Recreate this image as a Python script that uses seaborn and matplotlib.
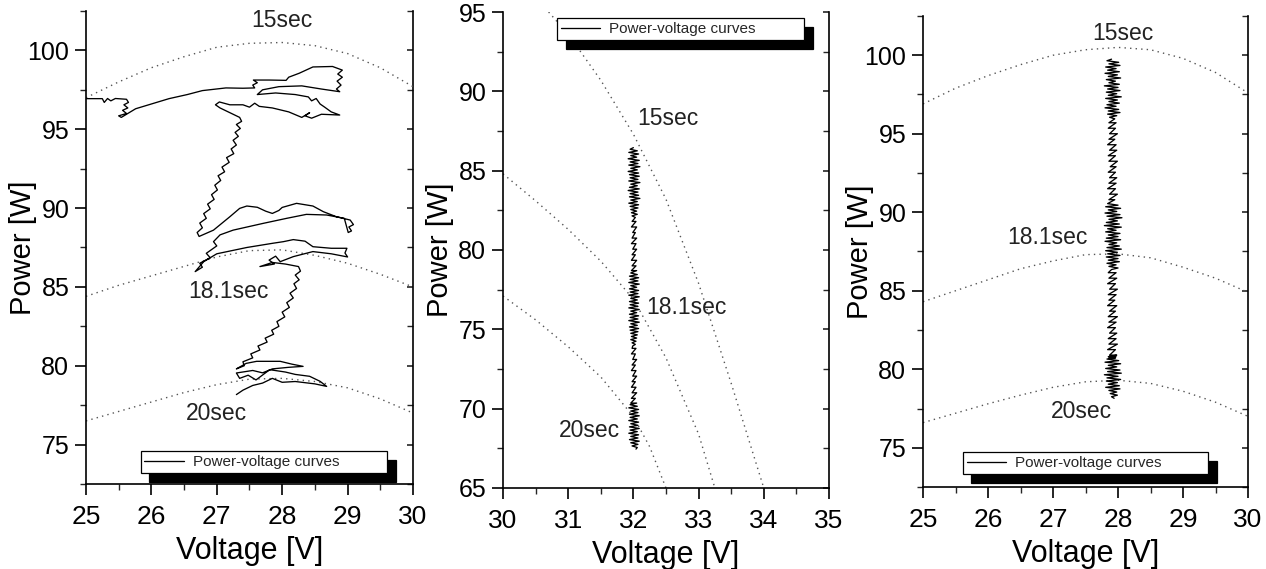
import matplotlib
matplotlib.use("Agg")
import matplotlib.pyplot as plt
from matplotlib.ticker import MultipleLocator
import seaborn as sns

# ---------------- data ----------------
# Dotted P-V curves (panels 1 and 3 share the same voltage grid)
pv_volt = [25.0, 25.5, 26.0, 26.5, 27.0, 27.5, 28.0, 28.5, 29.0, 29.5, 30.0]
p1_15s = [97.0, 98.0, 98.9, 99.6, 100.2, 100.45, 100.5, 100.3, 99.8, 98.9, 97.7]
p1_181s = [84.4, 85.1, 85.7, 86.3, 86.9, 87.3, 87.35, 87.0, 86.5, 85.8, 85.0]
p1_20s = [76.5, 77.1, 77.7, 78.3, 78.8, 79.15, 79.2, 79.0, 78.6, 77.9, 77.0]

p3_15s = [96.9, 97.9, 98.7, 99.4, 100.0, 100.35, 100.5, 100.35, 99.8, 98.9, 97.6]
p3_181s = [84.3, 85.0, 85.7, 86.4, 86.9, 87.3, 87.35, 87.1, 86.5, 85.8, 84.9]
p3_20s = [76.6, 77.2, 77.8, 78.35, 78.85, 79.2, 79.3, 79.1, 78.6, 77.9, 77.0]

# Panel 2 dotted curves
p2_15s_v = [30.7, 31.0, 31.5, 32.0, 32.5, 33.0, 33.5, 34.0]
p2_15s_p = [95.0, 93.6, 90.7, 87.3, 83.2, 77.9, 71.6, 65.0]
p2_181s_v = [30.0, 30.5, 31.0, 31.5, 32.0, 32.5, 33.0, 33.25]
p2_181s_p = [84.8, 83.1, 81.3, 79.3, 76.9, 73.2, 68.4, 65.0]
p2_20s_v = [30.0, 30.5, 31.0, 31.5, 32.0, 32.25, 32.5]
p2_20s_p = [77.1, 75.6, 73.9, 72.0, 69.5, 67.6, 65.0]

# Panel 1 operating-point trajectory
traj1_v = [25.00, 25.25, 25.28, 25.33, 25.38, 25.45, 25.62, 25.65, 25.58, 25.64, 25.56, 25.62, 25.50, 25.54,
           25.62, 25.76, 26.00, 26.27, 26.55, 26.78, 27.14, 27.40, 27.58,
           27.55, 27.62, 27.56, 27.80, 28.06, 28.10, 28.26, 28.47, 28.77, 28.92, 28.85, 28.92, 28.84, 28.90, 28.83, 28.88,
           28.60, 28.30, 27.95, 27.70, 27.62,
           27.90, 28.20, 28.40, 28.45, 28.52, 28.58, 28.65, 28.75, 28.88,
           28.60, 28.45, 28.35, 28.42, 28.30, 28.10, 27.85, 27.65, 27.58, 27.50, 27.40, 27.20, 27.04, 26.98, 27.05, 27.15, 27.25, 27.35,
           27.38, 27.30, 27.36, 27.28, 27.33, 27.25, 27.30, 27.22, 27.26, 27.15, 27.19, 27.08, 27.12, 27.02, 27.06, 26.97, 27.01,
           26.92, 26.96, 26.86, 26.90, 26.80, 26.84, 26.74, 26.78, 26.70, 26.73,
           26.95, 27.20, 27.35, 27.46, 27.62, 27.75, 27.85, 27.95, 28.00, 28.22, 28.47, 28.63, 28.83, 29.04, 29.09, 29.02, 29.06, 29.01,
           28.95, 28.68, 28.37, 28.07, 27.71, 27.25, 27.05,
           26.95, 27.00, 26.84, 26.90, 26.74, 26.78, 26.67,
           26.80, 27.00, 27.46, 27.86, 28.02, 28.17, 28.35, 28.47, 28.75, 28.99, 28.96, 29.00,
           28.75, 28.47, 28.17, 27.97, 27.90, 27.80, 27.88, 27.66, 27.85, 28.05, 28.25,
           28.28, 28.20, 28.26, 28.18, 28.22, 28.12, 28.17, 28.07, 28.11, 28.00, 28.04, 27.92, 27.95, 27.84, 27.87, 27.74,
           27.77, 27.63, 27.66, 27.52, 27.55, 27.40, 27.42, 27.30,
           27.45, 27.61, 27.97, 28.15, 28.32, 28.10, 27.85, 27.70, 27.55, 27.30, 27.35, 27.48, 27.60, 27.81, 28.05, 28.20,
           28.42, 28.58, 28.68, 28.50, 28.20, 28.00, 27.85, 27.70, 27.55, 27.40, 27.30]
traj1_p = [96.94, 96.94, 96.70, 96.95, 96.80, 96.95, 96.90, 96.70, 96.55, 96.35, 96.20, 96.00, 95.85, 95.75,
           95.95, 96.30, 96.60, 96.94, 97.20, 97.45, 97.62, 97.60, 97.62,
           97.80, 97.95, 98.12, 98.12, 98.10, 98.30, 98.55, 98.95, 98.98, 98.75, 98.50, 98.30, 98.05, 97.80, 97.55, 97.38,
           97.55, 97.75, 97.70, 97.50, 97.20,
           97.30, 97.20, 97.05, 96.80, 96.95, 96.60, 96.40, 96.10, 95.90,
           95.95, 95.70, 95.85, 96.05, 95.75, 96.10, 96.35, 96.45, 96.65, 96.40, 96.55, 96.55, 96.73, 96.55, 96.35, 96.15, 95.95, 95.75,
           95.50, 95.30, 95.05, 94.80, 94.55, 94.30, 94.00, 93.75, 93.45, 93.20, 92.90, 92.60, 92.30, 92.05, 91.75, 91.45, 91.15,
           90.85, 90.55, 90.25, 89.95, 89.65, 89.35, 89.05, 88.75, 88.45, 88.20,
           88.60, 89.45, 89.98, 90.13, 90.05, 89.80, 89.66, 89.85, 90.04, 90.30, 90.13, 89.77, 89.45, 89.24, 88.95, 88.80, 88.55, 88.45,
           89.35, 89.56, 89.60, 89.35, 89.03, 88.60, 88.30,
           87.87, 87.60, 87.13, 86.85, 86.50, 86.25, 85.97,
           86.60, 87.10, 87.50, 87.77, 87.87, 88.00, 87.90, 87.55, 87.45, 87.45, 87.15, 86.90,
           87.10, 87.24, 86.92, 86.60, 86.95, 86.70, 86.45, 86.29, 86.55, 86.45, 86.29,
           86.00, 85.75, 85.45, 85.20, 84.90, 84.60, 84.30, 84.00, 83.70, 83.40, 83.10, 82.80, 82.50, 82.25, 82.00, 81.75,
           81.50, 81.25, 81.00, 80.75, 80.50, 80.25, 80.00, 79.80,
           80.15, 80.28, 80.28, 80.10, 79.96, 79.90, 79.80, 79.55, 79.70, 79.54, 79.20, 79.40, 79.10, 79.75, 79.60, 79.45,
           79.33, 79.01, 78.69, 78.85, 79.00, 78.95, 79.20, 78.90, 78.75, 78.45, 78.17]

# Panel 2 trajectory (around 32 V), top to bottom
traj2_v = [32.00, 31.95, 32.06, 31.93, 32.08, 31.96, 32.05, 31.92, 32.09, 31.95, 32.07, 31.93, 32.10, 31.96, 32.06,
           31.92, 32.08, 31.94, 32.09, 31.95, 32.07, 31.93, 32.10, 31.96, 32.06, 31.94, 32.09, 31.92, 32.07, 31.95,
           32.08, 31.94, 32.10, 31.96, 32.06, 31.93, 32.08, 31.95, 32.07, 31.96, 32.05, 31.97, 32.06, 31.98, 32.03,
           31.98, 32.04, 31.97, 32.05, 31.99, 32.03, 31.98, 32.05, 31.97, 32.04, 31.99, 32.05, 31.98, 32.03, 31.97,
           32.05, 31.98, 32.04, 31.97, 32.05,
           31.96, 32.06, 31.94, 32.08, 31.95, 32.07, 31.93, 32.09, 31.96, 32.05, 31.94, 32.08, 31.95, 32.07, 31.93,
           32.09, 31.96, 32.06, 31.94, 32.08, 31.95, 32.07, 31.93, 32.09, 31.96, 32.05, 31.94, 32.08, 31.95, 32.07,
           31.93, 32.09, 31.96, 32.06, 31.94, 32.08, 31.95, 32.07, 31.96, 32.06, 31.97, 32.05, 31.96, 32.04, 31.98,
           32.03, 31.99,
           31.98, 32.04, 31.97, 32.03, 31.99, 32.05, 31.98, 32.03, 31.97, 32.04, 31.99, 32.05, 31.98, 32.03, 31.97,
           32.04, 31.98, 32.05, 31.97, 32.03, 31.96, 32.05,
           31.95, 32.06, 31.93, 32.08, 31.96, 32.07, 31.94, 32.09, 31.95, 32.06, 31.93, 32.08, 31.96, 32.07, 31.94,
           32.09, 31.95, 32.06, 31.93, 32.08, 31.96, 32.07, 31.94, 32.09, 31.96, 32.07, 31.98, 32.06, 32.04]
traj2_p = [86.45, 86.35, 86.25, 86.15, 86.05, 85.95, 85.85, 85.75, 85.65, 85.55, 85.45, 85.35, 85.25, 85.15, 85.05,
           84.95, 84.85, 84.75, 84.65, 84.55, 84.45, 84.35, 84.25, 84.15, 84.05, 83.95, 83.85, 83.75, 83.65, 83.55,
           83.45, 83.35, 83.25, 83.15, 83.05, 82.95, 82.85, 82.75, 82.65, 82.55, 82.45, 82.35, 82.25, 82.15, 82.05,
           81.80, 81.80, 81.45, 81.45, 81.10, 81.10, 80.75, 80.75, 80.40, 80.40, 80.05, 80.05, 79.70, 79.70, 79.35,
           79.35, 79.00, 79.00, 78.70, 78.70,
           78.55, 78.45, 78.35, 78.25, 78.15, 78.05, 77.95, 77.85, 77.75, 77.65, 77.55, 77.45, 77.35, 77.25, 77.15,
           77.05, 76.95, 76.85, 76.75, 76.65, 76.55, 76.45, 76.35, 76.25, 76.15, 76.05, 75.95, 75.85, 75.75, 75.65,
           75.55, 75.45, 75.35, 75.25, 75.15, 75.05, 74.95, 74.85, 74.75, 74.65, 74.55, 74.45, 74.35, 74.25, 74.15,
           74.05, 73.95,
           73.80, 73.80, 73.45, 73.45, 73.10, 73.10, 72.75, 72.75, 72.40, 72.40, 72.05, 72.05, 71.70, 71.70, 71.35,
           71.35, 71.00, 71.00, 70.65, 70.65, 70.35, 70.35,
           70.25, 70.15, 70.05, 69.95, 69.85, 69.75, 69.65, 69.55, 69.45, 69.35, 69.25, 69.15, 69.05, 68.95, 68.85,
           68.75, 68.65, 68.55, 68.45, 68.35, 68.25, 68.15, 68.05, 67.95, 67.85, 67.75, 67.65, 67.55, 67.45]

# Panel 3 trajectory (around 27.9 V), top to bottom
traj3_v = [27.90, 27.83, 28.01, 27.86, 28.03, 27.81, 27.97, 27.84, 28.02, 27.80, 27.99, 27.85, 28.04, 27.82, 27.96,
           27.86, 28.02, 27.79, 28.00, 27.84, 28.03, 27.82, 27.98, 27.85, 28.05, 27.81, 27.99, 27.86, 28.02, 27.83,
           27.97, 27.80, 28.01, 27.85, 28.03, 27.84, 27.98, 27.87, 27.95,
           27.86, 27.97, 27.85, 27.96, 27.87, 27.99, 27.86, 27.95, 27.84, 27.97, 27.87, 27.98, 27.85, 27.96, 27.86,
           27.99, 27.88, 27.97, 27.85, 27.96, 27.87, 27.98, 27.86, 27.97, 27.84, 27.96, 27.87, 27.99, 27.86, 27.95,
           27.84, 28.00, 27.81, 28.04, 27.85, 27.98, 27.80, 28.03, 27.83, 28.06, 27.86, 27.99, 27.82, 28.02, 27.79,
           28.05, 27.84, 27.97, 27.81, 28.03, 27.85, 28.00, 27.82, 28.04, 27.80, 27.98, 27.86, 28.02, 27.83, 28.05,
           27.81, 27.99, 27.84, 28.03, 27.82, 28.00, 27.85, 28.02, 27.83, 27.97, 27.86, 28.00, 27.90,
           27.85, 27.97, 27.86, 27.98, 27.84, 27.96, 27.87, 27.99, 27.85, 27.97, 27.86, 27.95, 27.84, 27.98, 27.87,
           27.96, 27.85, 27.99, 27.86, 27.97, 27.84, 27.96, 27.87, 27.98, 27.85, 27.97, 27.86, 27.99, 27.84, 27.96,
           27.87, 27.98, 27.85, 27.97, 27.86, 27.96,
           27.83, 28.01, 27.80, 28.04, 27.85, 27.98, 27.81, 28.03, 27.84, 28.05, 27.79, 28.00, 27.83, 28.04, 27.82,
           27.99, 27.85, 28.02, 27.81, 28.03, 27.86, 27.98, 27.88, 27.99, 27.90, 27.94]
traj3_p = [99.75, 99.65, 99.55, 99.45, 99.35, 99.25, 99.15, 99.05, 98.95, 98.85, 98.75, 98.65, 98.55, 98.45, 98.35,
           98.25, 98.15, 98.05, 97.95, 97.85, 97.75, 97.65, 97.55, 97.45, 97.35, 97.25, 97.15, 97.05, 96.95, 96.85,
           96.75, 96.65, 96.55, 96.45, 96.35, 96.25, 96.15, 96.05, 95.95,
           95.70, 95.70, 95.35, 95.35, 95.00, 95.00, 94.65, 94.65, 94.30, 94.30, 93.95, 93.95, 93.60, 93.60, 93.25,
           93.25, 92.90, 92.90, 92.55, 92.55, 92.20, 92.20, 91.85, 91.85, 91.50, 91.50, 91.15, 91.15, 90.80, 90.80,
           90.55, 90.45, 90.35, 90.25, 90.15, 90.05, 89.95, 89.85, 89.75, 89.65, 89.55, 89.45, 89.35, 89.25, 89.15,
           89.05, 88.95, 88.85, 88.75, 88.65, 88.55, 88.45, 88.35, 88.25, 88.15, 88.05, 87.95, 87.85, 87.75, 87.65,
           87.55, 87.45, 87.35, 87.25, 87.15, 87.05, 86.95, 86.85, 86.75, 86.65, 86.55, 86.45, 86.35,
           86.15, 86.15, 85.80, 85.80, 85.45, 85.45, 85.10, 85.10, 84.75, 84.75, 84.40, 84.40, 84.05, 84.05, 83.70,
           83.70, 83.35, 83.35, 83.00, 83.00, 82.65, 82.65, 82.30, 82.30, 81.95, 81.95, 81.60, 81.60, 81.25, 81.25,
           80.90, 80.90, 80.80, 80.80, 80.72, 80.72,
           80.65, 80.55, 80.45, 80.35, 80.25, 80.15, 80.05, 79.95, 79.85, 79.75, 79.65, 79.55, 79.45, 79.35, 79.25,
           79.15, 79.05, 78.95, 78.85, 78.75, 78.65, 78.55, 78.45, 78.35, 78.25, 78.15]

curve_names = ["15sec", "18.1sec", "20sec"]
label_pos1 = [(27.99, 101.9), (27.18, 84.7), (27.0, 77.0)]
label_pos2 = [(32.53, 88.3), (32.81, 76.35), (31.33, 68.6)]
label_pos3 = [(28.08, 101.4), (26.92, 88.4), (27.44, 77.3)]
legend_text = "Power-voltage curves"

# ---------------- style ----------------
sns.set_theme(style="ticks")
plt.rcParams["font.family"] = ["Liberation Sans", "DejaVu Sans"]
plt.rcParams["axes.linewidth"] = 1.2
plt.rcParams["xtick.major.width"] = 1.2
plt.rcParams["ytick.major.width"] = 1.2
plt.rcParams["xtick.minor.width"] = 1.0
plt.rcParams["ytick.minor.width"] = 1.0

fig = plt.figure(figsize=(12.66, 5.69), dpi=100)
rects = [
    (0.0679, 0.1494, 0.3262 - 0.0679, 0.9807 - 0.1494),
    (0.3973, 0.1424, 0.6548 - 0.3973, 0.9789 - 0.1424),
    (0.7291, 0.1441, 0.9858 - 0.7291, 0.9719 - 0.1441),
]
axes = [fig.add_axes(r) for r in rects]

dot_style = dict(color="#555555", linewidth=1.0, linestyle=(0, (1, 3)), legend=False)
traj_style = dict(color="black", linewidth=0.95, sort=False, estimator=None)


def style_axis(ax, xlim, ylim, xmaj, ymaj, leg_box):
    ax.set_xlim(*xlim)
    ax.set_ylim(*ylim)
    ax.xaxis.set_major_locator(MultipleLocator(xmaj))
    ax.xaxis.set_minor_locator(MultipleLocator(xmaj / 2))
    ax.yaxis.set_major_locator(MultipleLocator(ymaj))
    ax.yaxis.set_minor_locator(MultipleLocator(ymaj / 2))
    ax.tick_params(axis="both", which="major", direction="out", length=8,
                   colors="black")
    ax.tick_params(axis="x", which="major", labelsize=19, pad=7)
    ax.tick_params(axis="y", which="major", labelsize=18, pad=4)
    ax.tick_params(axis="both", which="minor", direction="out", length=4)
    ax.spines["top"].set_visible(False)
    ax.spines["right"].set_visible(False)
    for s in ("left", "bottom"):
        ax.spines[s].set_color("black")
    sec = ax.secondary_yaxis("right")
    sec.yaxis.set_major_locator(MultipleLocator(ymaj))
    sec.yaxis.set_minor_locator(MultipleLocator(ymaj / 2))
    sec.tick_params(axis="y", which="both", direction="in", length=4, labelright=False)
    sec.spines["right"].set_color("black")
    sec.spines["right"].set_linewidth(1.2)
    ax.set_xlabel("Voltage [V]", fontsize=22, labelpad=5, color="black")
    ax.set_ylabel("Power [W]", fontsize=21, color="black")
    ax.yaxis.set_label_coords(-0.15, 0.5)
    leg = ax.legend(loc="lower left", bbox_to_anchor=leg_box, mode="expand",
                    borderaxespad=0, borderpad=0.25, handlelength=2.6, handletextpad=0.6,
                    fontsize=11, frameon=True, fancybox=False, framealpha=1,
                    alignment="center",
                    shadow={"ox": 6.3, "oy": -6.3, "color": "black", "alpha": 1})
    leg.get_frame().set_edgecolor("black")
    leg.get_frame().set_linewidth(0.9)


def add_labels(ax, positions):
    for name, (x, y) in zip(curve_names, positions):
        ax.text(x, y, name, fontsize=16.5, ha="center", va="center", color="#222222")


# Panel 1
ax = axes[0]
for vals in (p1_15s, p1_181s, p1_20s):
    sns.lineplot(x=pv_volt, y=vals, ax=ax, **dot_style)
sns.lineplot(x=traj1_v, y=traj1_p, ax=ax, label=legend_text, **traj_style)
add_labels(ax, label_pos1)
style_axis(ax, (25, 30), (72.5, 102.5), 1, 5, (0.167, 0.023, 0.754, 0.049))

# Panel 2
ax = axes[1]
for xv, yv in ((p2_15s_v, p2_15s_p), (p2_181s_v, p2_181s_p), (p2_20s_v, p2_20s_p)):
    sns.lineplot(x=xv, y=yv, ax=ax, sort=False, **dot_style)
sns.lineplot(x=traj2_v, y=traj2_p, ax=ax, label=legend_text, **traj_style)
add_labels(ax, label_pos2)
style_axis(ax, (30, 35), (65, 95), 1, 5, (0.165, 0.941, 0.758, 0.05))

# Panel 3
ax = axes[2]
for vals in (p3_15s, p3_181s, p3_20s):
    sns.lineplot(x=pv_volt, y=vals, ax=ax, **dot_style)
sns.lineplot(x=traj3_v, y=traj3_p, ax=ax, label=legend_text, **traj_style)
add_labels(ax, label_pos3)
style_axis(ax, (25, 30), (72.5, 102.5), 1, 5, (0.122, 0.028, 0.756, 0.048))

fig.savefig("out.png", dpi=100, facecolor="white")
